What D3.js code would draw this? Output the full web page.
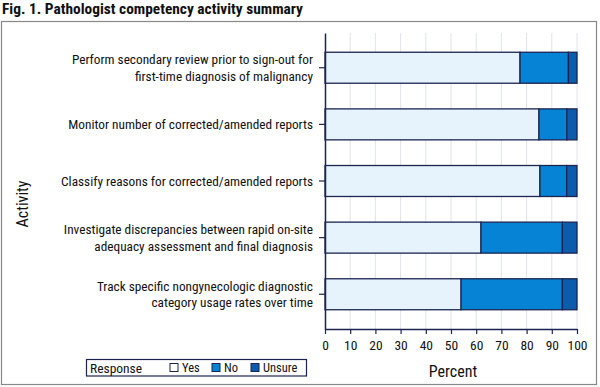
<!DOCTYPE html>
<html><head><meta charset="utf-8">
<script src="https://cdn.jsdelivr.net/npm/d3@7"></script>
<style>
body{margin:0;background:#fff;}
text{font-family:"Liberation Sans Narrow","Roboto Condensed","Liberation Sans",sans-serif;}
</style></head>
<body><svg id="c" width="600" height="387"></svg>
<script>
const activities = [
  ["Perform secondary review prior to sign-out for","first-time diagnosis of malignancy"],
  ["Monitor number of corrected/amended reports"],
  ["Classify reasons for corrected/amended reports"],
  ["Investigate discrepancies between rapid on-site","adequacy assessment and final diagnosis"],
  ["Track specific nongynecologic diagnostic","category usage rates over time"]
];
const responses = ["Yes","No","Unsure"];
const yesVals = [77.4, 84.9, 85.3, 61.9, 54.0];
const noVals = [19.2, 11.1, 10.6, 32.3, 40.2];
const unsureVals = [3.4, 4.0, 4.1, 5.8, 5.8];
const xTicks = [0,10,20,30,40,50,60,70,80,90,100];
const colors = ["#e6f3fc","#0683d4","#0b5cad"];

const svg = d3.select("#c");
const stroke = "#1b2550";

// title
svg.append("text").attr("x",2).attr("y",14).attr("font-size",15.4).attr("font-weight","bold")
  .attr("fill","#111").text("Fig. 1. Pathologist competency activity summary");
// outer frame
svg.append("rect").attr("x",1.5).attr("y",21.5).attr("width",595).attr("height",363)
  .attr("fill","none").attr("stroke","#888").attr("stroke-width",1.2);

const x = d3.scaleLinear().domain([0,100]).range([325,577]);
const y = d3.scaleBand().domain(d3.range(activities.length)).range([33,329]).paddingInner(0.453).paddingOuter(0.34);

// gridlines
svg.append("g").selectAll("line").data(xTicks.slice(1)).join("line")
  .attr("x1",d=>x(d)).attr("x2",d=>x(d)).attr("y1",33).attr("y2",329)
  .attr("stroke","#dfe3ee").attr("stroke-width",1);

const data = activities.map((a,i)=>({i, Yes:yesVals[i], No:noVals[i], Unsure:unsureVals[i]}));
const stacked = d3.stack().keys(responses)(data);

svg.append("g").selectAll("g").data(stacked).join("g")
  .attr("fill",(d,k)=>colors[k])
  .selectAll("rect").data(d=>d).join("rect")
  .attr("x",d=>x(d[0])).attr("width",d=>x(d[1])-x(d[0]))
  .attr("y",(d,j)=>y(j)).attr("height",y.bandwidth())
  .attr("stroke",stroke).attr("stroke-width",1.3);

// x axis
const xa = svg.append("g").attr("transform","translate(0,329)")
  .call(d3.axisBottom(x).tickValues(xTicks).tickSize(5).tickSizeOuter(0));
xa.select(".domain").attr("stroke",stroke).attr("stroke-width",1.5);
xa.selectAll(".tick line").attr("stroke",stroke).attr("stroke-width",1.2);
xa.selectAll(".tick text").attr("font-size",13.5).attr("fill","#111").attr("dy","0.95em")
  .attr("font-family","\"Liberation Sans Narrow\",\"Roboto Condensed\",sans-serif");

// y axis
const ya = svg.append("g").attr("transform","translate(325,0)")
  .call(d3.axisLeft(y).tickSize(6).tickSizeOuter(0).tickFormat(""));
ya.select(".domain").attr("stroke",stroke).attr("stroke-width",1.5);
ya.selectAll(".tick line").attr("stroke",stroke).attr("stroke-width",1.2);

// y labels
activities.forEach((lines,i)=>{
  const cy = y(i)+y.bandwidth()/2;
  const t = svg.append("text").attr("text-anchor","end").attr("font-size",13.3).attr("fill","#111");
  const n = lines.length;
  lines.forEach((ln,k)=>{
    t.append("tspan").attr("x",313).attr("y",cy + (k-(n-1)/2)*16.5 + 4.8).text(ln);
  });
});

// axis titles
svg.append("text").attr("x",x(50)+2).attr("y",377).attr("text-anchor","middle")
  .attr("font-size",16).attr("fill","#111").text("Percent");
svg.append("text").attr("transform","translate(28,204) rotate(-90)").attr("text-anchor","middle")
  .attr("font-size",16).attr("fill","#111").text("Activity");

// legend
const lg = svg.append("g");
lg.append("rect").attr("x",86.5).attr("y",359.5).attr("width",220).attr("height",16.5)
  .attr("fill","#fff").attr("stroke",stroke).attr("stroke-width",1.2);
lg.append("text").attr("x",90).attr("y",372.5).attr("font-size",13.5).attr("fill","#111")
  .attr("font-family","\"Liberation Sans\",sans-serif").text("Response");
const lx = [170,212,251];
responses.forEach((r,k)=>{
  lg.append("rect").attr("x",lx[k]).attr("y",363.5).attr("width",8).attr("height",8)
    .attr("fill",k===0?"#fff":colors[k]).attr("stroke",stroke).attr("stroke-width",1);
  lg.append("text").attr("x",lx[k]+12).attr("y",372).attr("font-size",12.5).attr("fill","#111")
    .attr("font-family","\"Liberation Sans\",sans-serif").text(r);
});
</script></body></html>
